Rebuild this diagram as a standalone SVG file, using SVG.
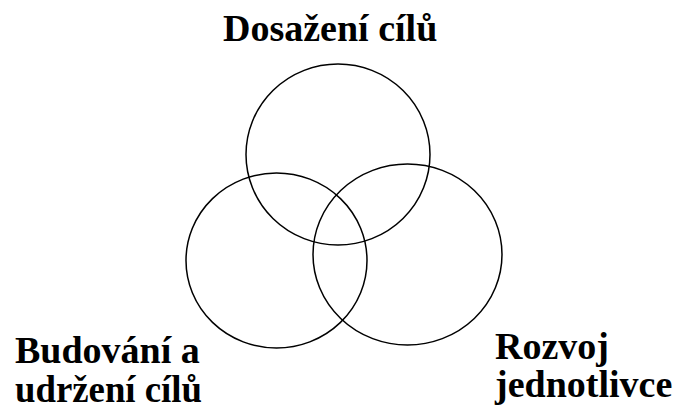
<svg xmlns="http://www.w3.org/2000/svg" width="673" height="410" viewBox="0 0 673 410">
<style>
.c{fill:none;stroke:#000;stroke-width:1.5}
.t{font-family:"Liberation Serif","Times New Roman",serif;font-weight:bold;font-size:38px;fill:#000}
</style>
<rect width="673" height="410" fill="#fff"/>
<g id="connectors"/>
<g id="top"><ellipse class="c" cx="338" cy="154.5" rx="92" ry="90.5"/></g>
<g id="left"><ellipse class="c" cx="276.5" cy="260.5" rx="90.5" ry="87.5"/></g>
<g id="right"><ellipse class="c" cx="407.5" cy="254.5" rx="94.5" ry="90.5"/></g>
<g id="label-top"><text class="t" x="223" y="41">Dosažení cílů</text></g>
<g id="label-left"><text class="t" x="15" y="363">Budování a</text><text class="t" x="15" y="402" textLength="187" lengthAdjust="spacingAndGlyphs">udržení cílů</text></g>
<g id="label-right"><text class="t" x="495" y="359">Rozvoj</text><text class="t" x="495" y="397">jednotlivce</text></g>
</svg>
